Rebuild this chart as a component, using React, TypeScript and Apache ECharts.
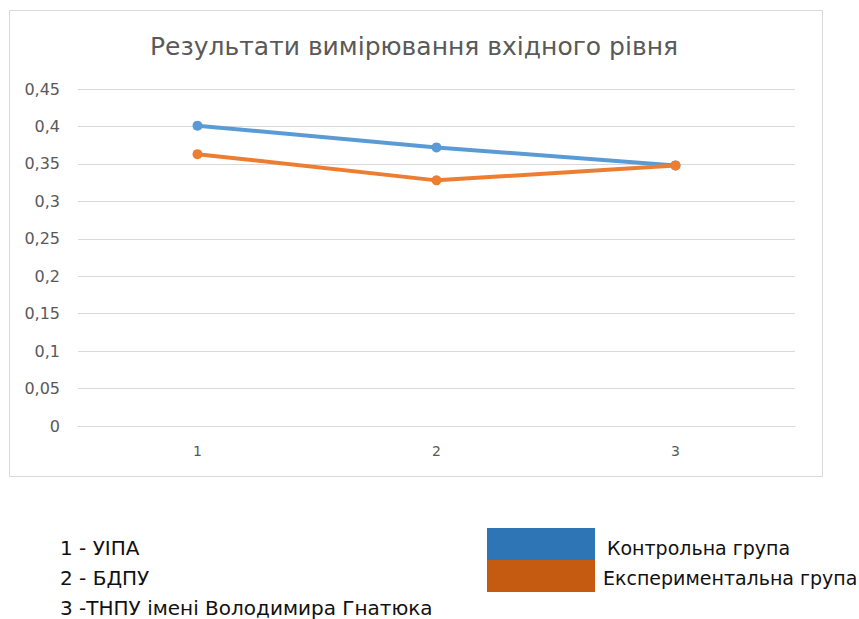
import React, { useEffect, useRef } from "react";
import * as echarts from "echarts";

const categories = ["1", "2", "3"];
const controlGroup = [0.401, 0.372, 0.348];
const experimentalGroup = [0.363, 0.328, 0.348];
const seriesNames = ["Контрольна група", "Експериментальна група"];
const seriesColors = ["#5B9BD5", "#ED7D31"];
const legendColors = ["#2E75B6", "#C55A11"];
const notes = ["1 - УІПА", "2 - БДПУ", "3 -ТНПУ імені Володимира Гнатюка"];
const titleText = "Результати вимірювання вхідного рівня";

const FONT = "'DejaVu Sans', 'Noto Sans', sans-serif";

export default function App() {
  const ref = useRef<HTMLDivElement>(null);
  useEffect(() => {
    if (!ref.current) return;
    const chart = echarts.init(ref.current, undefined, { renderer: "svg" });
    const graphic: any[] = [
      {
        type: "rect",
        shape: { x: 9.5, y: 10.5, width: 813, height: 466 },
        style: { fill: "none", stroke: "#D9D9D9", lineWidth: 1 },
        silent: true,
      },
    ];
    notes.forEach((t, i) => {
      graphic.push({
        type: "text",
        x: 60,
        y: 548 + i * 30,
        style: { text: t, font: `20px ${FONT}`, fill: "#111", textVerticalAlign: "middle" },
      });
    });
    seriesNames.forEach((n, i) => {
      graphic.push({
        type: "rect",
        shape: { x: 487, y: 528 + i * 32, width: 108, height: 32 },
        style: { fill: legendColors[i] },
      });
      graphic.push({
        type: "text",
        x: i === 0 ? 607 : 603,
        y: 548 + i * 30,
        style: { text: n, font: `19px ${FONT}`, fill: "#111", textVerticalAlign: "middle" },
      });
    });
    chart.setOption({
      animation: false,
      backgroundColor: "#fff",
      title: {
        text: titleText,
        left: 409,
        top: 29,
        textAlign: "center",
        textStyle: { fontFamily: FONT, fontSize: 25, fontWeight: "normal", color: "#595959" },
      },
      grid: { left: 78, right: 64, top: 89, bottom: 193, containLabel: false },
      xAxis: {
        type: "category",
        data: categories,
        boundaryGap: true,
        axisLine: { lineStyle: { color: "#D9D9D9" } },
        axisTick: { show: false },
        axisLabel: { color: "#595959", fontFamily: FONT, fontSize: 14, margin: 18 },
      },
      yAxis: {
        type: "value",
        min: 0,
        max: 0.45,
        interval: 0.05,
        axisLine: { show: false },
        axisTick: { show: false },
        splitLine: { lineStyle: { color: "#D9D9D9" } },
        axisLabel: {
          color: "#595959",
          fontFamily: FONT,
          fontSize: 16,
          margin: 18,
          formatter: (v: number) => String(Math.round(v * 100) / 100).replace(".", ","),
        },
      },
      series: [
        {
          name: seriesNames[0],
          type: "line",
          data: controlGroup,
          symbol: "circle",
          symbolSize: 10,
          lineStyle: { width: 4, color: seriesColors[0] },
          itemStyle: { color: seriesColors[0] },
        },
        {
          name: seriesNames[1],
          type: "line",
          data: experimentalGroup,
          symbol: "circle",
          symbolSize: 10,
          lineStyle: { width: 4, color: seriesColors[1] },
          itemStyle: { color: seriesColors[1] },
        },
      ],
      graphic,
    });
    return () => chart.dispose();
  }, []);
  return (
    <div
      ref={ref}
      style={{ position: "absolute", left: 0, top: 0, width: 859, height: 619 }}
    />
  );
}
